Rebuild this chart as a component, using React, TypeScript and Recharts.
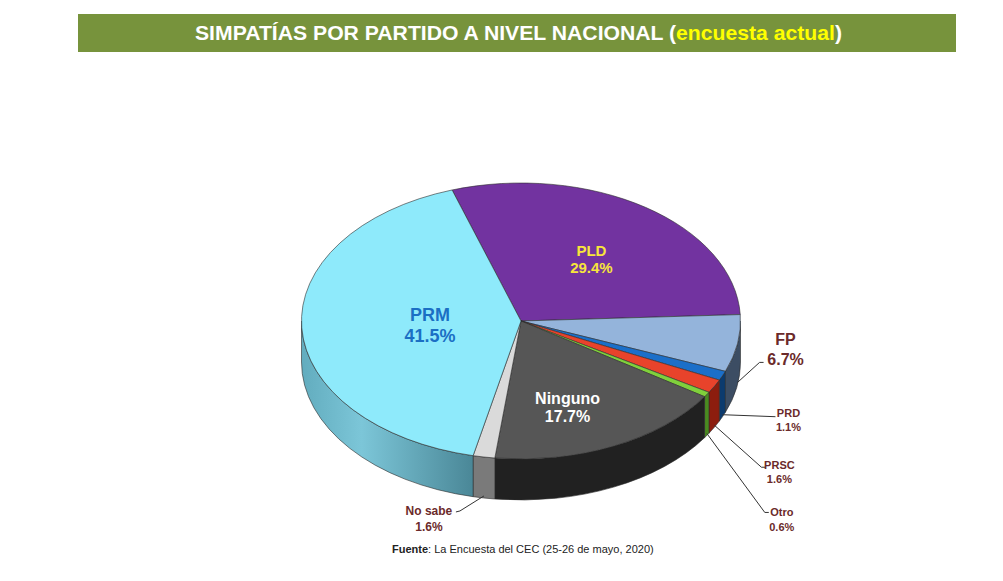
import React from 'react';
import { PieChart, Pie, Cell } from 'recharts';

// survey shares, clockwise from the top
const PARTIES = ['PLD', 'FP', 'PRD', 'PRSC', 'Otro', 'Ninguno', 'No sabe', 'PRM'];
const SHARES = [29.4, 6.7, 1.1, 1.6, 0.6, 17.7, 1.6, 41.5];

const TOP_COLORS = ['#7233a0', '#94b4db', '#1b6fc9', '#e8432b', '#80d03c', '#565656', '#dadada', '#8eeafb'];
const SIDE_COLORS = ['#3d1b57', '#3c4d63', '#0c3b6e', '#8c1d0e', '#4a8a20', '#212121', '#7a7a7a', 'url(#prmSide)'];

const CX = 521;
const CY = 321;
const RX = 219.5;
const RY = 138;
const DEPTH = 41;
const START = 108.3;
const RAD = Math.PI / 180;
const BROWN = '#6b2a2a';

// label placement (style only)
const LABEL_LAYOUT: any[] = [
  { inside: true, k: 0.55, dx: 2, dy: 0, color: '#f7e53b', size: 15, gap: 17.6 },
  { elbow: [22, -20], end: [26, -20], text: [48, -43], size: 16, gap: 20 },
  { elbow: [53, 2], end: [53, 2], text: [66, -2], size: 11, gap: 14 },
  { elbow: [47, 42], end: [51, 42], text: [65, 40], size: 11, gap: 14 },
  { elbow: [58, 79], end: [62, 79], text: [75, 79], size: 11, gap: 15 },
  { inside: true, k: 0.6, dx: -9, dy: 11, color: '#ffffff', size: 16, gap: 18.4 },
  { elbow: [-24, 15], end: [-28, 16], text: [-55, 15], size: 12, gap: 16 },
  { inside: true, k: 0.415, dx: 0, dy: 2, color: '#1b6fc4', size: 18, gap: 21 },
];

const data = PARTIES.map((name, i) => ({ name, value: SHARES[i] }));

function pt(cx: number, cy: number, rx: number, ry: number, a: number, dy = 0) {
  return [cx + rx * Math.cos(a * RAD), cy - ry * Math.sin(a * RAD) + dy];
}

function indexOf(p: any) {
  const n = p.payload?.name ?? p.name;
  const i = PARTIES.indexOf(n);
  return i >= 0 ? i : p.index ?? 0;
}

function Slice3D(props: any) {
  const { cx, cy, outerRadius, startAngle, endAngle } = props;
  const i = indexOf(props);
  const rx = outerRadius;
  const ry = (outerRadius * RY) / RX;
  const hi = Math.max(startAngle, endAngle);
  const lo = Math.min(startAngle, endAngle);
  const [x1, y1] = pt(cx, cy, rx, ry, hi);
  const [x2, y2] = pt(cx, cy, rx, ry, lo);
  const large = hi - lo > 180 ? 1 : 0;
  const top = `M${cx},${cy} L${x1},${y1} A${rx},${ry} 0 ${large} 1 ${x2},${y2} Z`;

  // side wall on the front half of the disc
  const walls: string[] = [];
  for (let k = -2; k <= 1; k++) {
    const a = Math.min(hi, 360 * k);
    const b = Math.max(lo, -180 + 360 * k);
    if (a - b > 0.01) {
      const [ax, ay] = pt(cx, cy, rx, ry, a);
      const [bx, by] = pt(cx, cy, rx, ry, b);
      walls.push(
        `M${ax},${ay} A${rx},${ry} 0 0 1 ${bx},${by} L${bx},${by + DEPTH} A${rx},${ry} 0 0 0 ${ax},${ay + DEPTH} Z`,
      );
    }
  }

  return (
    <g>
      {i === PARTIES.length - 1 && (
        <defs>
          <linearGradient id="prmSide" x1="0" y1="0" x2="1" y2="0">
            <stop offset="0%" stopColor="#62acbe" />
            <stop offset="35%" stopColor="#7cc6d8" />
            <stop offset="100%" stopColor="#4a8797" />
          </linearGradient>
        </defs>
      )}
      {walls.map((d, j) => (
        <path key={j} d={d} fill={SIDE_COLORS[i]} stroke="#2b2b2b" strokeWidth={0.6} />
      ))}
      <path d={top} fill={TOP_COLORS[i]} stroke="#2b2b2b" strokeWidth={0.6} strokeLinejoin="round" />
    </g>
  );
}

function renderLabel(p: any) {
  const i = indexOf(p);
  const lay = LABEL_LAYOUT[i];
  const { cx, cy, outerRadius, midAngle } = p;
  const rx = outerRadius;
  const ry = (outerRadius * RY) / RX;
  const pct = `${SHARES[i].toFixed(1)}%`;
  if (lay.inside) {
    const [x, y] = pt(cx, cy, rx * lay.k, ry * lay.k, midAngle);
    const tx = x + lay.dx;
    const ty = y + lay.dy;
    return (
      <text
        key={`l${i}`}
        textAnchor="middle"
        dominantBaseline="central"
        fill={lay.color}
        fontFamily="'Liberation Sans', Arial, sans-serif"
        fontWeight="bold"
        fontSize={lay.size}
      >
        <tspan x={tx} y={ty - lay.gap / 2}>{PARTIES[i]}</tspan>
        <tspan x={tx} y={ty + lay.gap / 2}>{pct}</tspan>
      </text>
    );
  }
  const [ax, ay] = pt(cx, cy, rx, ry, midAngle, DEPTH * 0.95);
  const tx = ax + lay.text[0];
  const ty = ay + lay.text[1];
  return (
    <g key={`l${i}`}>
      <polyline
        points={`${ax},${ay} ${ax + lay.elbow[0]},${ay + lay.elbow[1]} ${ax + lay.end[0]},${ay + lay.end[1]}`}
        fill="none"
        stroke="#333"
        strokeWidth={1}
      />
      <text
        textAnchor="middle"
        dominantBaseline="central"
        fill={BROWN}
        fontFamily="'Liberation Sans', Arial, sans-serif"
        fontWeight="bold"
        fontSize={lay.size}
      >
        <tspan x={tx} y={ty}>{PARTIES[i]}</tspan>
        <tspan x={tx} y={ty + lay.gap}>{pct}</tspan>
      </text>
    </g>
  );
}

export default function App() {
  return (
    <div style={{ position: 'absolute', left: 0, top: 0, width: 1003, height: 581, background: '#fff' }}>
      <svg width={1003} height={581} style={{ position: 'absolute', left: 0, top: 0 }}>
        <rect x={78} y={14} width={878} height={38} fill="#77933c" />
        <text
          x={195}
          y={40}
          textLength={647}
          lengthAdjust="spacingAndGlyphs"
          fill="#ffffff"
          fontFamily="'Liberation Sans', Arial, sans-serif"
          fontWeight="bold"
          fontSize={20}
        >
          SIMPATÍAS POR PARTIDO A NIVEL NACIONAL (<tspan fill="#ffff00">encuesta actual</tspan>)
        </text>
        <text x={392} y={553} fill="#222" fontFamily="'Liberation Sans', Arial, sans-serif" fontSize={11}>
          <tspan fontWeight="bold">Fuente</tspan>: La Encuesta del CEC (25-26 de mayo, 2020)
        </text>
      </svg>
      <div style={{ position: 'absolute', left: 0, top: 0 }}>
        <PieChart width={1003} height={581} margin={{ top: 0, right: 0, bottom: 0, left: 0 }}>
          <Pie
            data={data}
            dataKey="value"
            nameKey="name"
            cx={CX}
            cy={CY}
            innerRadius={0}
            outerRadius={RX}
            startAngle={START}
            endAngle={START - 360}
            stroke="none"
            isAnimationActive={false}
            shape={Slice3D}
            activeShape={Slice3D}
            inactiveShape={Slice3D}
            label={renderLabel}
            labelLine={false}
          >
            {data.map((d, i) => (
              <Cell key={d.name} fill={TOP_COLORS[i]} />
            ))}
          </Pie>
        </PieChart>
      </div>
    </div>
  );
}
